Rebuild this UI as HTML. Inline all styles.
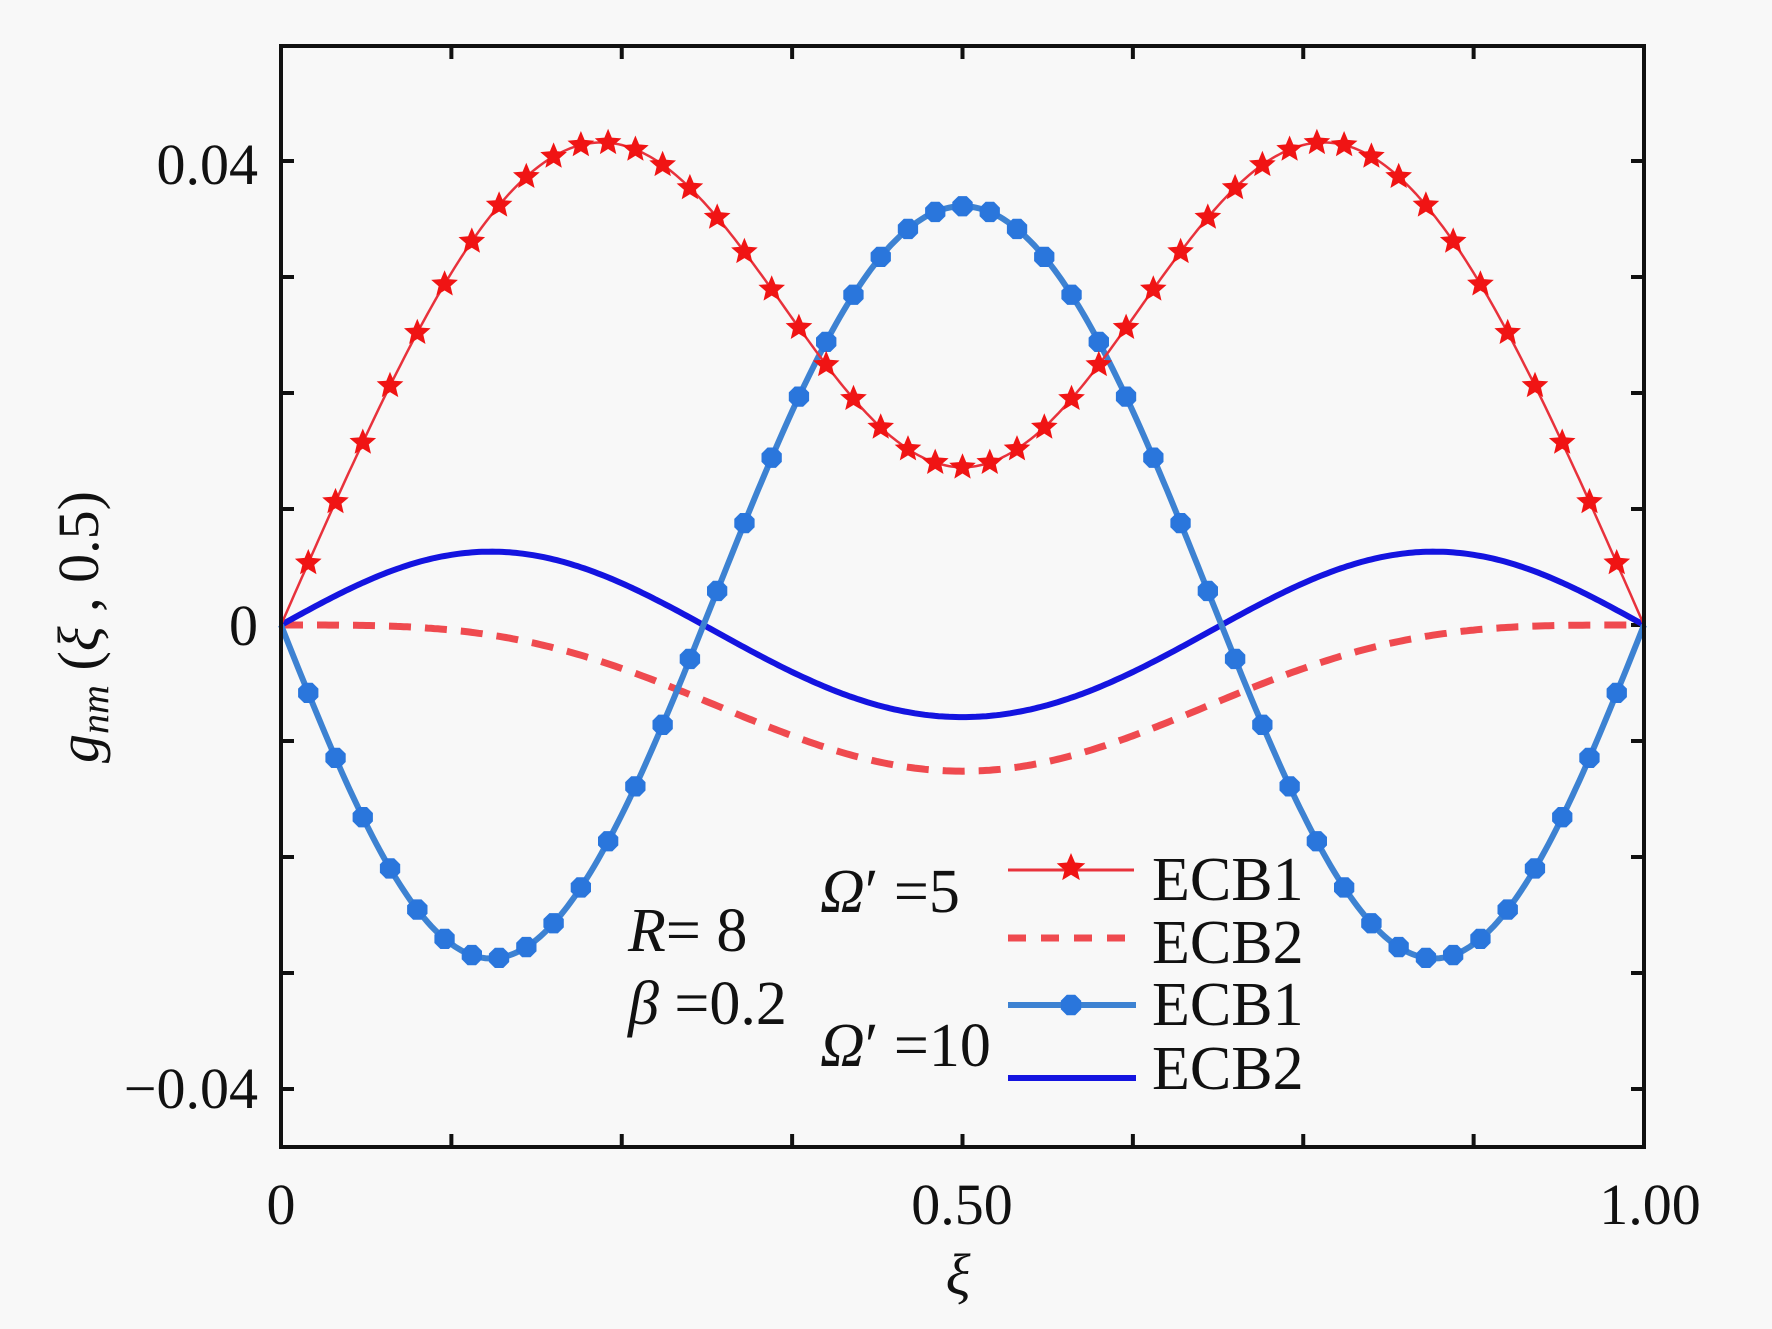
<!DOCTYPE html>
<html><head><meta charset="utf-8"><style>
html,body{margin:0;padding:0;background:#f8f8f8;}
svg{display:block}
text{font-family:"Liberation Serif",serif;fill:#111}
</style></head><body>
<svg id="s" width="1772" height="1329" viewBox="0 0 1772 1329" xmlns="http://www.w3.org/2000/svg">
<rect width="1772" height="1329" fill="#f8f8f8"/>
<g id="ticks" stroke="#111" stroke-width="4"></g>
<g id="curves"></g>
<rect x="281" y="46" width="1363" height="1101" fill="none" stroke="#111" stroke-width="4"/>
<g font-size="58">
<text x="258" y="184" text-anchor="end">0.04</text>
<text x="258" y="645" text-anchor="end">0</text>
<text x="258" y="1108" text-anchor="end">−0.04</text>
<text x="281" y="1224" text-anchor="middle">0</text>
<text x="962" y="1224" text-anchor="middle">0.50</text>
<text x="1650" y="1224" text-anchor="middle">1.00</text>
<text x="958" y="1294" text-anchor="middle" font-style="italic">ξ</text>
<text transform="translate(98,627) rotate(-90)" text-anchor="middle"><tspan font-style="italic">g</tspan><tspan font-style="italic" font-size="40" dy="10">nm</tspan><tspan dy="-10"> (</tspan><tspan font-style="italic">ξ</tspan> , 0.5)</text>
</g>
<g font-size="62">
<text x="628" y="951"><tspan font-style="italic">R</tspan>= 8</text>
<text x="628" y="1024"><tspan font-style="italic">β</tspan> =0.2</text>
<text x="820" y="912"><tspan font-style="italic">Ω</tspan>′ =5</text>
<text x="820" y="1066"><tspan font-style="italic">Ω</tspan>′ =10</text>
<text x="1152" y="900">ECB1</text>
<text x="1152" y="963">ECB2</text>
<text x="1152" y="1025">ECB1</text>
<text x="1152" y="1089">ECB2</text>
</g>
</svg>
<script>
var NS="http://www.w3.org/2000/svg";
var X0=281,X1=1644,Y0=625,K=11600;
function px(x){return X0+(X1-X0)*x}
function py(v){return Y0-K*v}
function el(t,a,p){var e=document.createElementNS(NS,t);for(var k in a)e.setAttribute(k,a[k]);p.appendChild(e);return e}
var tk=document.getElementById('ticks');
for(var i=0;i<=8;i++){var x=px(i/8);el('line',{x1:x,y1:1147,x2:x,y2:1134},tk);el('line',{x1:x,y1:46,x2:x,y2:59},tk);}
for(var i=-5;i<=5;i++){var y=py(i*0.01);if(y<50||y>1143)continue;el('line',{x1:281,y1:y,x2:294,y2:y},tk);el('line',{x1:1644,y1:y,x2:1631,y2:y},tk);}
var P=Math.PI,S=Math.sin;
function r1(x){return 0.03606*S(P*x)+0.020187*S(3*P*x)-0.002273*S(5*P*x)}
function r2(x){return -0.0126*Math.pow(S(P*x),3.5)}
function b1(x){return 0.006484*S(P*x)-0.03104*S(3*P*x)-0.001424*S(5*P*x)}
function b2(x){return -0.22*b1(x)}
var g=document.getElementById('curves');
function path(f,attrs){var d="";for(var i=0;i<=400;i++){var x=i/400;d+=(i?"L":"M")+px(x).toFixed(1)+","+py(f(x)).toFixed(1)}attrs.d=d;attrs.fill="none";el('path',attrs,g)}
function star(cx,cy,r,fill){var d="";for(var i=0;i<10;i++){var a=-P/2+i*P/5,rr=i%2?r*0.45:r;d+=(i?"L":"M")+(cx+rr*Math.cos(a)).toFixed(1)+","+(cy+rr*Math.sin(a)).toFixed(1)}el('path',{d:d+"Z",fill:fill},g)}
function hex(cx,cy,r,fill){var d="";for(var i=0;i<8;i++){var a=i*P/4+P/8;d+=(i?"L":"M")+(cx+r*Math.cos(a)).toFixed(1)+","+(cy+r*Math.sin(a)).toFixed(1)}el('path',{d:d+"Z",fill:fill},g)}
path(r2,{stroke:"#ef4a4f","stroke-width":7,"stroke-dasharray":"22,14"});
path(b2,{stroke:"#1414e0","stroke-width":6});
path(b1,{stroke:"#3d82d2","stroke-width":6});
for(var i=1;i<50;i++){var x=i/50;hex(px(x),py(b1(x)),11,"#2a76dc")}
path(r1,{stroke:"#e8323c","stroke-width":2.5});
for(var i=1;i<50;i++){var x=i/50;star(px(x),py(r1(x)),14,"#f01414")}
el('line',{x1:1008,y1:870,x2:1134,y2:870,stroke:"#e8323c","stroke-width":3},g);star(1071,868,15,"#f01414");
el('line',{x1:1008,y1:938,x2:1130,y2:938,stroke:"#ef4a4f","stroke-width":7,"stroke-dasharray":"18,15"},g);
el('line',{x1:1008,y1:1005,x2:1136,y2:1005,stroke:"#3d82d2","stroke-width":6},g);hex(1071,1005,11,"#2a76dc");
el('line',{x1:1008,y1:1078,x2:1136,y2:1078,stroke:"#1414e0","stroke-width":6},g);
</script>
</body></html>
